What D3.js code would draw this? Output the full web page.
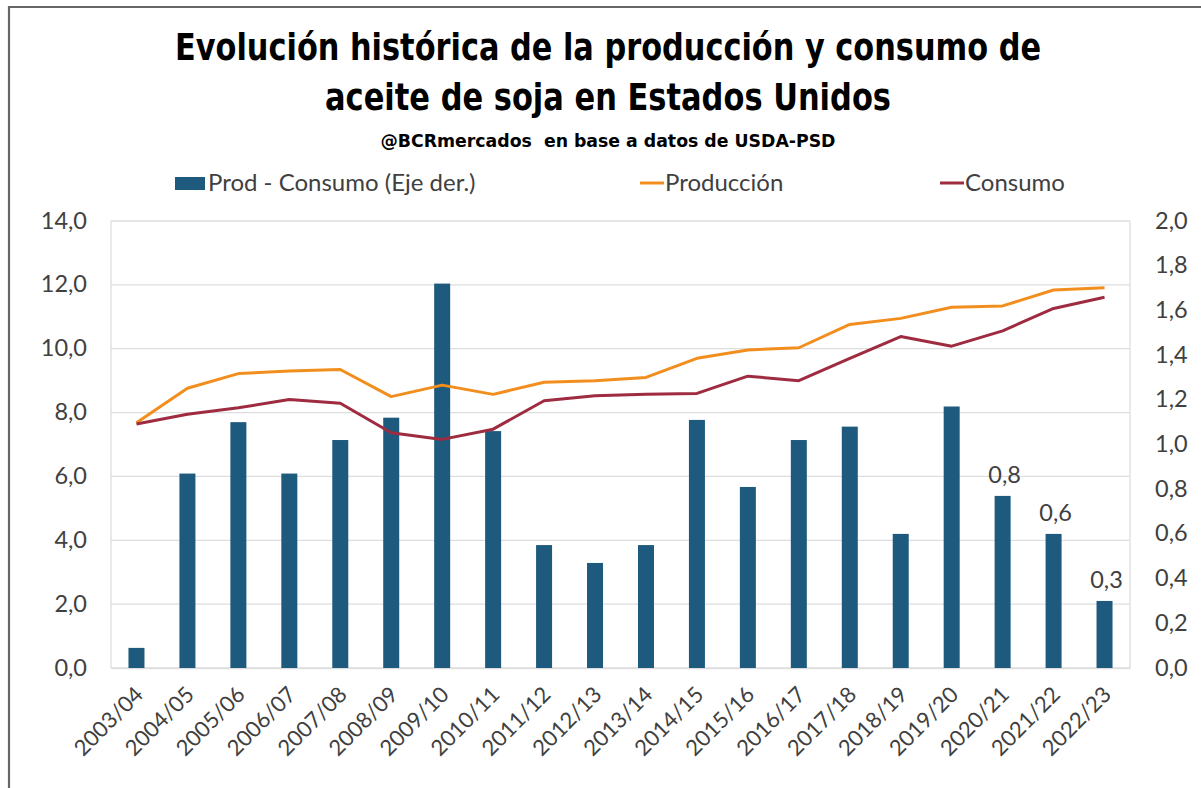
<!DOCTYPE html>
<html>
<head>
<meta charset="utf-8">
<script src="https://cdn.jsdelivr.net/npm/d3@7"></script>
<style>
html,body{margin:0;padding:0;background:#fff;}
svg{display:block;}
</style>
</head>
<body>
<svg id="chart" width="1201" height="788"></svg>
<script>
const categories = ["2003/04","2004/05","2005/06","2006/07","2007/08","2008/09","2009/10","2010/11","2011/12","2012/13","2013/14","2014/15","2015/16","2016/17","2017/18","2018/19","2019/20","2020/21","2021/22","2022/23"];
const produccion = [7.68,8.76,9.22,9.30,9.35,8.50,8.86,8.57,8.95,9.00,9.10,9.70,9.96,10.03,10.76,10.95,11.30,11.34,11.84,11.91];
const consumo = [7.64,7.95,8.15,8.41,8.29,7.37,7.16,7.48,8.37,8.53,8.57,8.60,9.14,9.00,9.70,10.38,10.08,10.56,11.26,11.61];
const diferencia = [0.09,0.87,1.10,0.87,1.02,1.12,1.72,1.06,0.55,0.47,0.55,1.11,0.81,1.02,1.08,0.60,1.17,0.77,0.60,0.30];
const labelled = ["2020/21","2021/22","2022/23"];
const leftTicks = [0,2,4,6,8,10,12,14];
const rightTicks = [0,0.2,0.4,0.6,0.8,1.0,1.2,1.4,1.6,1.8,2.0];
const titleLines = ["Evolución histórica de la producción y consumo de","aceite de soja en Estados Unidos"];
const subtitle = "@BCRmercados  en base a datos de USDA-PSD";
const legendItems = [
  {name:"Prod - Consumo (Eje der.)", type:"bar"},
  {name:"Producción", type:"line"},
  {name:"Consumo", type:"line"}
];

const colors = {bar:"#1d5a7d", prod:"#f28e1e", cons:"#9e2b3f"};
const loc = d3.formatLocale({decimal:",", thousands:".", grouping:[3], currency:["$",""]});
const f1 = loc.format(".1f");

const svg = d3.select("#chart");
const L = 111, R = 1130, T = 221, B = 668;
const font = "Lato, 'Open Sans', sans-serif";

// frame
svg.append("line").attr("x1",8).attr("x2",1201).attr("y1",7).attr("y2",7).attr("stroke","#666").attr("stroke-width",2.2);
svg.append("line").attr("x1",9).attr("x2",9).attr("y1",6).attr("y2",788).attr("stroke","#666").attr("stroke-width",2.2);

const x = d3.scaleBand().domain(categories).range([L,R]).paddingInner(0.686).paddingOuter(0.343);
const yL = d3.scaleLinear().domain([0,14]).range([B,T]);
const yR = d3.scaleLinear().domain([0,2]).range([B,T]);
const cx = d => x(d) + x.bandwidth()/2;

// gridlines
svg.append("g").selectAll("line").data(leftTicks).join("line")
  .attr("x1",L).attr("x2",R).attr("y1",d=>yL(d)).attr("y2",d=>yL(d))
  .attr("stroke","#dedede").attr("stroke-width",1.3);
svg.append("line").attr("x1",L).attr("x2",L).attr("y1",T).attr("y2",B).attr("stroke","#dedede").attr("stroke-width",1.3);
svg.append("line").attr("x1",R).attr("x2",R).attr("y1",T).attr("y2",B).attr("stroke","#dedede").attr("stroke-width",1.3);

// left axis
const axL = svg.append("g").attr("transform",`translate(${L},0)`)
  .call(d3.axisLeft(yL).tickValues(leftTicks).tickFormat(f1).tickSize(0).tickPadding(24));
axL.select(".domain").remove();
axL.selectAll("text").attr("font-family",font).attr("font-size",23.5).attr("fill","#404040").attr("dy","0.3em");

// right axis
const axR = svg.append("g").attr("transform",`translate(${R},0)`)
  .call(d3.axisRight(yR).tickValues(rightTicks).tickFormat(f1).tickSize(0).tickPadding(25));
axR.select(".domain").remove();
axR.selectAll("text").attr("font-family",font).attr("font-size",23.5).attr("fill","#404040").attr("dy","0.3em");

// x axis
const axX = svg.append("g").attr("transform",`translate(0,${B})`)
  .call(d3.axisBottom(x).tickSize(0).tickPadding(0));
axX.select(".domain").attr("stroke","#dedede").attr("stroke-width",1.3);
axX.selectAll("text").attr("font-family",font).attr("font-size",22).attr("fill","#404040")
  .attr("text-anchor","end").attr("dy",0).attr("y",0)
  .attr("transform","translate(8,28) rotate(-45)");

// bars
svg.append("g").selectAll("rect").data(categories).join("rect")
  .attr("x",d=>x(d)).attr("width",x.bandwidth())
  .attr("y",(d,i)=>yR(diferencia[i])).attr("height",(d,i)=>B-yR(diferencia[i]))
  .attr("fill",colors.bar);

// bar labels
svg.append("g").selectAll("text").data(categories.filter(c=>labelled.includes(c))).join("text")
  .attr("x",d=>cx(d)+2).attr("y",d=>yR(diferencia[categories.indexOf(d)])-13)
  .attr("text-anchor","middle").attr("font-family",font).attr("font-size",23.5).attr("fill","#404040")
  .text(d=>f1(diferencia[categories.indexOf(d)]));

// lines
const line = arr => d3.line().x((d,i)=>cx(categories[i])).y(d=>yL(d))(arr);
svg.append("path").attr("d",line(produccion)).attr("fill","none").attr("stroke",colors.prod).attr("stroke-width",3).attr("stroke-linejoin","round");
svg.append("path").attr("d",line(consumo)).attr("fill","none").attr("stroke",colors.cons).attr("stroke-width",3).attr("stroke-linejoin","round");

// title
const tl = [{t:titleLines[0], y:60, w:866, cx:608},{t:titleLines[1], y:110, w:566, cx:608}];
svg.append("g").selectAll("text").data(tl).join("text")
  .attr("x",d=>d.cx).attr("y",d=>d.y).attr("text-anchor","middle")
  .attr("font-family","'Liberation Sans Narrow','DejaVu Sans Condensed','Liberation Sans',sans-serif")
  .attr("font-weight","bold").attr("font-size",38).attr("fill","#000")
  .attr("textLength",d=>d.w).attr("lengthAdjust","spacingAndGlyphs")
  .text(d=>d.t);
svg.append("text").attr("x",608).attr("y",147).attr("text-anchor","middle")
  .attr("font-family","'Liberation Sans Narrow','DejaVu Sans Condensed','Liberation Sans',sans-serif")
  .attr("font-weight","bold").attr("font-size",17.5).attr("fill","#000")
  .attr("textLength",455).attr("lengthAdjust","spacingAndGlyphs")
  .style("white-space","pre").text(subtitle);

// legend
const legX = [175, 640, 940];
const lg = svg.append("g");
legendItems.forEach((it,i)=>{
  const g = lg.append("g").attr("transform",`translate(${legX[i]},183)`);
  if(it.type==="bar"){
    g.append("rect").attr("x",0).attr("y",-6).attr("width",30).attr("height",13).attr("fill",colors.bar);
  } else {
    g.append("line").attr("x1",0).attr("x2",24).attr("y1",0).attr("y2",0)
      .attr("stroke", i===1?colors.prod:colors.cons).attr("stroke-width",3);
  }
  g.append("text").attr("x", it.type==="bar"?33:25).attr("y",0).attr("dy","0.33em")
    .attr("font-family",font).attr("font-size",24).attr("fill","#404040").text(it.name);
});
</script>
</body>
</html>
